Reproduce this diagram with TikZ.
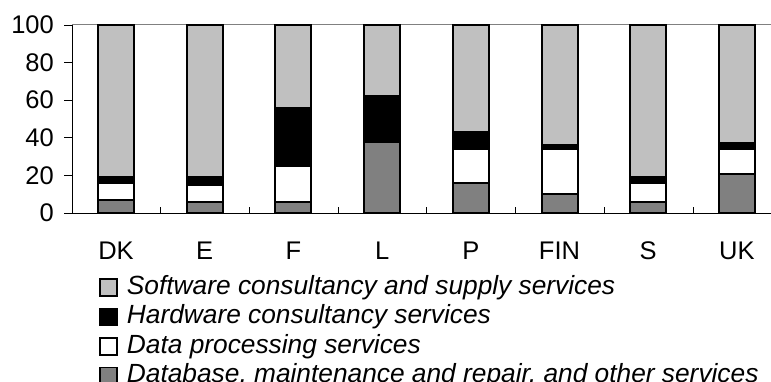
\documentclass[tikz,border=0pt]{standalone}
\usepackage{fontspec}
\setmainfont{Liberation Sans}
\usetikzlibrary{positioning}

\definecolor{swgray}{HTML}{C0C0C0}
\definecolor{dbgray}{HTML}{808080}

\tikzset{
    segment/.style={draw=black, line width=2pt},
    keybox/.style={draw=black, line width=1.5pt, minimum size=17pt, inner sep=0pt},
    keytext/.style={font=\fontsize{26.3}{30}\selectfont\itshape, inner sep=0pt,
        text height=18.8pt, text depth=5.6pt, anchor=west},
    axislabel/.style={font=\fontsize{25.5}{30}\selectfont, inner sep=0pt}
}

\begin{document}
\begin{tikzpicture}[x=1pt, y=1pt]
    \useasboundingbox (0,0) rectangle (771,382);

    % Chart (values 0..100)
    \begin{scope}[shift={(0,169)}, y=1.88pt]
        % grid line and axes
        \draw[dbgray, line width=1pt] (72,100) -- (771,100);
        \draw[line width=0.8pt] (72,0) -- (72,100);
        \draw[line width=0.8pt] (64,0) -- (771,0);
        \foreach \v in {0,20,...,100} {
            \draw[line width=0.8pt] (64,\v) -- (72,\v);
            \node[axislabel, anchor=east] (ylab\v) at (54,\v) {\v};
        }
        \foreach \k in {1,...,7}
            \draw[line width=0.8pt] ({72+88.7*\k},0) -- ({72+88.7*\k},3.2);

        % Bars: database / data processing / hardware, software on top
        \foreach \c/\db/\dp/\hw [count=\i from 0] in
            {DK/7/9/3, E/6/9/4, F/6/19/31, L/38/0/24, P/16/18/9, FIN/10/24/2, S/6/10/3, UK/21/13/3} {
            \pgfmathsetmacro{\xc}{116+88.7*\i}
            \pgfmathsetmacro{\ya}{\db}
            \pgfmathsetmacro{\yb}{\db+\dp}
            \pgfmathsetmacro{\yc}{\db+\dp+\hw}
            \draw[segment, fill=swgray] (\xc-18,\yc) rectangle (\xc+18,100);
            \draw[segment, fill=black] (\xc-18,\yb) rectangle (\xc+18,\yc);
            \draw[segment, fill=white] (\xc-18,\ya) rectangle (\xc+18,\yb);
            \draw[segment, fill=dbgray] (\xc-18,0) rectangle (\xc+18,\ya);
            \node[axislabel, anchor=base] (xlab\c) at (\xc,-24.5) {\c};
        }
    \end{scope}

    % Legend
    \node[keybox, fill=swgray] (keysw) at (108.5,94.5) {};
    \node[keybox, fill=black, below=11pt of keysw] (keyhw) {};
    \node[keybox, fill=white, below=11pt of keyhw] (keydp) {};
    \node[keybox, fill=dbgray, below=11pt of keydp] (keydb) {};
    \node[keytext, right=9pt of keysw] (txtsw) {Software consultancy and supply services};
    \node[keytext, right=9pt of keyhw] (txthw) {Hardware consultancy services};
    \node[keytext, right=9pt of keydp] (txtdp) {Data processing services};
    \node[keytext, right=9pt of keydb] (txtdb) {Database, maintenance and repair, and other services};
\end{tikzpicture}
\end{document}
